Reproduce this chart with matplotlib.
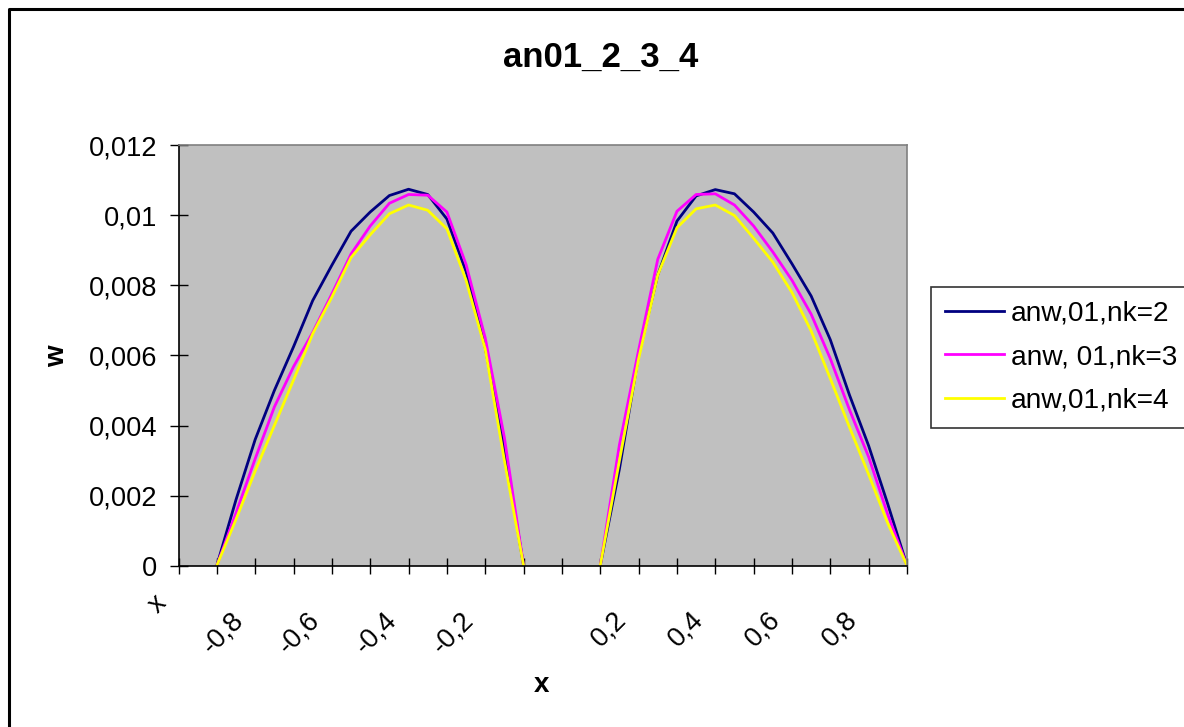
import matplotlib
matplotlib.use("Agg")
import matplotlib.pyplot as plt
from matplotlib.lines import Line2D
from matplotlib.transforms import ScaledTranslation

plt.rcParams['font.family'] = ['Liberation Sans', 'DejaVu Sans']

# data (two branches, gap between -0.1 and 0.1)
x_left = [-0.90, -0.85, -0.80, -0.75, -0.70, -0.65, -0.60, -0.55, -0.50,
          -0.45, -0.40, -0.35, -0.30, -0.25, -0.20, -0.15, -0.10]
x_right = [0.10, 0.15, 0.20, 0.25, 0.30, 0.35, 0.40, 0.45, 0.50,
           0.55, 0.60, 0.65, 0.70, 0.75, 0.80, 0.85, 0.90]

nk2_left = [0, 0.00188, 0.00360, 0.00500, 0.00625, 0.00757, 0.00858, 0.00955, 0.01010,
            0.01057, 0.01075, 0.01060, 0.00990, 0.00840, 0.00622, 0.00332, 0]
nk2_right = [0, 0.00276, 0.00600, 0.00830, 0.00984, 0.01056, 0.01074, 0.01062, 0.01010,
             0.00950, 0.00862, 0.00770, 0.00645, 0.00487, 0.00342, 0.00175, 0]

nk3_left = [0, 0.00150, 0.00305, 0.00453, 0.00568, 0.00666, 0.00776, 0.00890, 0.00970,
            0.01035, 0.01060, 0.01058, 0.01010, 0.00860, 0.00650, 0.00365, 0]
nk3_right = [0, 0.00345, 0.00615, 0.00875, 0.01012, 0.01060, 0.01062, 0.01030, 0.00970,
             0.00896, 0.00815, 0.00718, 0.00591, 0.00445, 0.00310, 0.00145, 0]

nk4_left = [0, 0.00132, 0.00270, 0.00400, 0.00530, 0.00662, 0.00767, 0.00880, 0.00945,
            0.01005, 0.01030, 0.01015, 0.00962, 0.00815, 0.00618, 0.00300, 0]
nk4_right = [0, 0.00300, 0.00590, 0.00830, 0.00965, 0.01019, 0.01030, 0.01000, 0.00935,
             0.00867, 0.00780, 0.00670, 0.00534, 0.00395, 0.00260, 0.00120, 0]

series_names = ['anw,01,nk=2', 'anw, 01,nk=3', 'anw,01,nk=4']
series_colors = ['#000080', '#FF00FF', '#FFFF00']

x_ticks = [-1.0, -0.9, -0.8, -0.7, -0.6, -0.5, -0.4, -0.3, -0.2, -0.1,
           0.0, 0.1, 0.2, 0.3, 0.4, 0.5, 0.6, 0.7, 0.8, 0.9]
x_ticklabels = ['x', '', '-0,8', '', '-0,6', '', '-0,4', '', '-0,2', '',
                '', '', '0,2', '', '0,4', '', '0,6', '', '0,8', '']
y_ticks = [0, 0.002, 0.004, 0.006, 0.008, 0.01, 0.012]
y_ticklabels = ['0', '0,002', '0,004', '0,006', '0,008', '0,01', '0,012']

fig = plt.figure(figsize=(11.84, 7.27), dpi=100)
W, H = 1184, 727
ax = fig.add_axes([178.5 / W, 1 - 565.5 / H, 728.5 / W, 420 / H])
ax.set_facecolor('#C0C0C0')

lefts = [nk2_left, nk3_left, nk4_left]
rights = [nk2_right, nk3_right, nk4_right]
for yl, yr, name, c in zip(lefts, rights, series_names, series_colors):
    ax.plot(x_left, yl, color=c, lw=2.0, label=name)
    ax.plot(x_right, yr, color=c, lw=2.0)

ax.set_xlim(-1.0, 0.9)
ax.set_ylim(0, 0.012)

# category-style x labels, rotated 45 deg like the spreadsheet does it
ax.set_xticks(x_ticks)
ax.set_xticklabels([])
for xt, lab in zip(x_ticks, x_ticklabels):
    if not lab:
        continue
    dy = -0.245 if lab == 'x' else -0.415
    tr = ax.get_xaxis_transform() + ScaledTranslation(-0.25, dy, fig.dpi_scale_trans)
    ax.text(xt, 0, lab, transform=tr, rotation=45, rotation_mode='anchor',
            ha='right', va='top', fontsize=19.6, clip_on=False)

ax.set_yticks(y_ticks)
ax.set_yticklabels(y_ticklabels, fontsize=19.6)

ax.tick_params(axis='x', direction='inout', length=12, width=1)
ax.tick_params(axis='y', direction='inout', length=13, width=1, pad=9)

for side in ['top', 'right']:
    ax.spines[side].set_color('#808080')
    ax.spines[side].set_linewidth(1.2)
for side in ['left', 'bottom']:
    ax.spines[side].set_color('black')
    ax.spines[side].set_linewidth(1.2)

fig.text(600.5 / W, 1 - 57 / H, 'an01_2_3_4', ha='center', va='center',
         fontsize=25, fontweight='bold')
fig.text(57 / W, 1 - 356 / H, 'w', ha='center', va='center', rotation=90,
         fontsize=20, fontweight='bold')
fig.text(541 / W, 1 - 685 / H, 'x', ha='center', va='center',
         fontsize=20, fontweight='bold')

leg = fig.legend(loc='upper left', bbox_to_anchor=(931 / W, 1 - 286.7 / H),
                 fontsize=20.2, frameon=True, fancybox=False, shadow=False,
                 handlelength=2.1, handletextpad=0.25, borderpad=0.5,
                 labelspacing=0.62, borderaxespad=0)
leg.get_frame().set_edgecolor('black')
leg.get_frame().set_linewidth(1.2)
leg.get_frame().set_facecolor('white')

# outer chart border (only left and top edges are inside the picture)
fig.add_artist(Line2D([8.5 / W, 8.5 / W, 1.01], [-0.01, 1 - 8.5 / H, 1 - 8.5 / H],
                      transform=fig.transFigure, color='black', lw=2.2))

fig.savefig('out.png', dpi=100)
